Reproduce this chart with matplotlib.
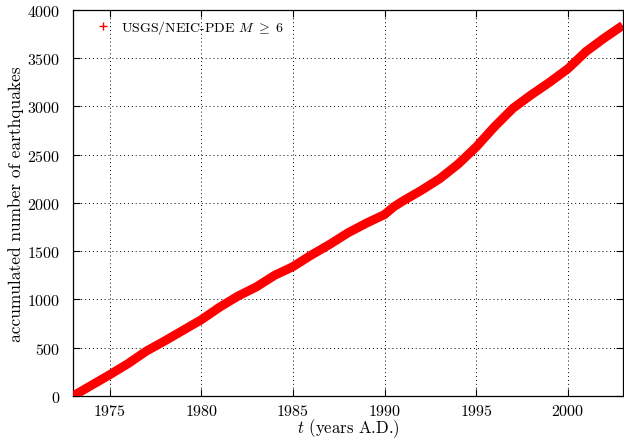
import matplotlib.pyplot as plt
from matplotlib.lines import Line2D

plt.rcParams['font.family'] = 'serif'
plt.rcParams['font.serif'] = ['cmr10', 'DejaVu Serif']
plt.rcParams['mathtext.fontset'] = 'cm'
plt.rcParams['axes.formatter.use_mathtext'] = True

# accumulated number of M>=6 events
years = [1973.0, 1974.0, 1975.0, 1976.0, 1977.0, 1978.0, 1978.5, 1979.0,
         1980.0, 1981.0, 1982.0, 1983.0, 1984.0, 1985.0, 1986.0, 1987.0,
         1988.0, 1989.0, 1990.0, 1990.5, 1991.0, 1992.0, 1993.0, 1994.0, 1995.0,
         1996.0, 1997.0, 1998.0, 1999.0, 2000.0, 2001.0, 2002.0, 2003.0]
counts = [0, 110, 220, 335, 465, 570, 625, 680,
          790, 920, 1035, 1130, 1250, 1340, 1460, 1570,
          1690, 1790, 1880, 1960, 2020, 2130, 2250, 2400, 2580,
          2790, 2980, 3120, 3250, 3390, 3570, 3710, 3840]

xticks = [1975, 1980, 1985, 1990, 1995, 2000]
yticks = [0, 500, 1000, 1500, 2000, 2500, 3000, 3500, 4000]

fig = plt.figure(figsize=(6.24, 4.39), dpi=100)
ax = fig.add_axes([0.117, 0.0957, 0.881, 0.8793])

ax.plot(years, counts, color='red', linewidth=6.5, solid_capstyle='butt',
        solid_joinstyle='round', zorder=3)

ax.set_xlim(1973, 2003)
ax.set_ylim(0, 4000)
ax.set_xticks(xticks)
ax.set_yticks(yticks)
ax.tick_params(direction='in', top=True, right=True, length=5, width=0.8,
               labelsize=11.5)
ax.tick_params(axis='x', pad=5)
ax.tick_params(axis='y', pad=9)
ax.grid(True, color='black', linestyle=(0, (1, 3)), linewidth=0.7)
for s in ax.spines.values():
    s.set_linewidth(0.9)

ax.set_xlabel(r'$t$ (years A.D.)', fontsize=12, labelpad=-1)
ax.set_ylabel('accumulated number of earthquakes', fontsize=12.5, labelpad=2)

handle = Line2D([], [], color='red', marker='+', linestyle='none', markersize=6)
leg = ax.legend([handle], [r'USGS/NEIC-PDE $M\ \geq\ 6$'], loc='upper left',
                frameon=False, fontsize=10, handletextpad=0.55, handlelength=1.5,
                borderaxespad=0.2, bbox_to_anchor=(0.02, 1.0))

fig.savefig('out.png', dpi=100)
